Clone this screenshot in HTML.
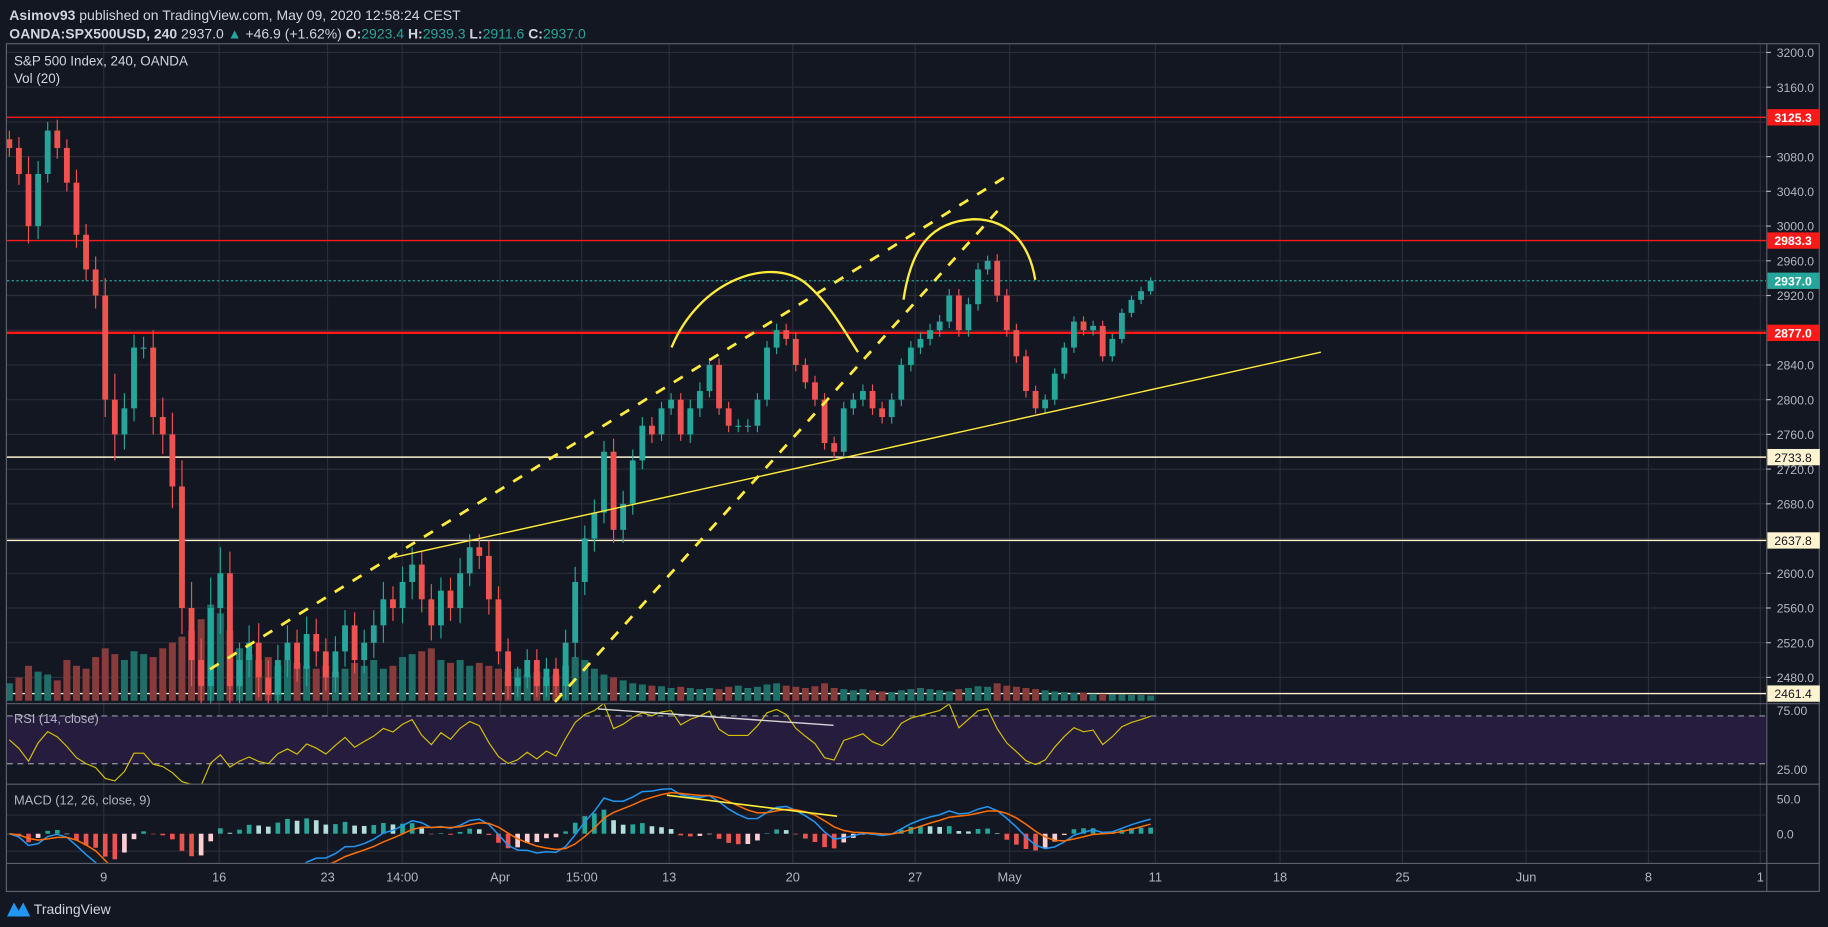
<!DOCTYPE html>
<html><head><meta charset="utf-8">
<style>
html,body{margin:0;padding:0;background:#131722;overflow:hidden}
svg{display:block}
text{font-family:"Liberation Sans",sans-serif}
</style></head>
<body>
<svg id="c" width="1828" height="927" viewBox="0 0 1568 795" preserveAspectRatio="none" xmlns="http://www.w3.org/2000/svg">
<rect x="0" y="0" width="1568" height="795" fill="#131722"/>
<defs>
<clipPath id="cm"><rect x="6" y="38" width="1509" height="565"/></clipPath>
<clipPath id="cr"><rect x="6" y="604" width="1509" height="68"/></clipPath>
<clipPath id="cd"><rect x="6" y="673" width="1509" height="67"/></clipPath>
</defs>
<g>
<text x="8" y="17" font-size="12" fill="#d1d4dc"><tspan font-weight="bold">Asimov93</tspan> published on TradingView.com, May 09, 2020 12:58:24 CEST</text>
<text x="8" y="33" font-size="12" fill="#d1d4dc"><tspan font-weight="bold">OANDA:SPX500USD, 240</tspan> 2937.0 <tspan fill="#26a69a">▲</tspan> +46.9 (+1.62%) <tspan font-weight="bold">O:</tspan><tspan fill="#26a69a">2923.4</tspan> <tspan font-weight="bold">H:</tspan><tspan fill="#26a69a">2939.3</tspan> <tspan font-weight="bold">L:</tspan><tspan fill="#26a69a">2911.6</tspan> <tspan font-weight="bold">C:</tspan><tspan fill="#26a69a">2937.0</tspan></text>
</g>
<g id="grid"></g>
<g id="levels" clip-path="url(#cm)"></g>
<g id="vol" clip-path="url(#cm)"></g>
<g id="candles" clip-path="url(#cm)"></g>
<g id="draw" clip-path="url(#cm)" fill="none" stroke="#ffeb3b">
<line x1="180" y1="574" x2="862" y2="152" stroke-width="2.4" stroke-dasharray="9,9"/>
<line x1="476" y1="602" x2="860" y2="176" stroke-width="2.4" stroke-dasharray="9,9"/>
<line x1="338" y1="478" x2="1133" y2="302" stroke-width="1.2"/>
<path d="M576,298 C600,240 660,220 690,242 C710,258 725,285 736,302" stroke-width="2"/>
<path d="M775,257 C782,210 800,190 835,188 C870,188 884,215 888,240" stroke-width="2"/>
</g>
<g id="rsi"></g>
<g id="macd"></g>
<g id="axes"></g>
<g>
<path d="M6,786 L12,774 L16,781 L20,774 L26,786 Z" fill="#2196f3"/>
<text x="29" y="784" font-size="12" fill="#d1d4dc">TradingView</text>
</g>
</svg>
<script>
const closes=[3090,3060,3000,3060,3110,3090,3050,2990,2950,2920,2800,2760,2790,2860,2860,2780,2760,2700,2560,2500,2470,2560,2600,2470,2500,2520,2480,2460,2500,2520,2490,2530,2510,2480,2510,2540,2500,2520,2540,2570,2560,2590,2610,2570,2540,2580,2560,2600,2630,2620,2570,2510,2470,2480,2500,2470,2490,2470,2520,2590,2640,2670,2740,2650,2680,2730,2770,2760,2790,2800,2760,2790,2810,2840,2790,2770,2770,2770,2800,2860,2880,2870,2840,2820,2800,2750,2740,2790,2800,2810,2790,2780,2800,2840,2860,2870,2880,2890,2920,2880,2910,2950,2960,2920,2880,2850,2810,2790,2800,2830,2860,2890,2880,2885,2850,2870,2900,2915,2925,2937];
const wicks=[20,25,40,30,20,25,20,30,25,30,40,60,35,30,25,40,45,50,60,60,50,70,60,50,40,40,45,40,35,40,30,40,35,30,35,35,30,30,35,40,30,35,40,30,35,30,30,35,30,30,35,30,30,25,25,25,25,25,30,35,30,30,25,30,30,25,20,20,15,15,15,20,20,15,15,15,15,15,15,15,15,15,15,15,15,15,15,15,15,15,15,15,15,15,15,15,15,15,15,15,15,15,12,15,15,15,15,12,12,12,12,12,12,12,12,12,10,10,10,8];
const volumes=[30,40,60,50,45,35,70,60,55,75,90,80,70,85,80,75,90,100,110,120,140,165,150,120,90,80,70,75,60,70,65,60,55,60,50,55,65,60,70,55,60,75,80,85,90,70,65,70,60,65,60,55,50,55,45,50,40,45,60,75,70,55,45,40,35,30,28,26,25,22,24,22,20,22,20,24,26,22,24,28,30,26,24,22,25,30,22,20,18,20,18,16,15,18,20,22,20,18,16,20,22,25,24,30,26,24,22,20,18,16,15,14,14,12,12,11,11,10,10,9];
const priceTicks=[3200,3160,3080,3040,3000,2960,2920,2840,2800,2760,2720,2680,2600,2560,2520,2480];
const gridPrices=[3200,3160,3120,3080,3040,3000,2960,2920,2880,2840,2800,2760,2720,2680,2640,2600,2560,2520,2480];
const dateLabels=["9","16","23","14:00","Apr","15:00","13","20","27","May","11","18","25","Jun","8","1"];
const datePos=[89,188,281,345,429,499,574,680,785,866,991,1098,1203,1309,1414,1510];
const levelPrices=[3125.3,2983.3,2877.0,2733.8,2637.8,2461.4];
const levelKinds=["red","red","red2","cream","cream","cream"];

const NS="http://www.w3.org/2000/svg";
function mk(p,t,a){const e=document.createElementNS(NS,t);for(const k in a)e.setAttribute(k,a[k]);p.appendChild(e);return e;}
const yP=p=>45+(3200-p)*0.7444;
const xI=i=>8+i*(979/(closes.length-1));
const yR=v=>614+(70-v)*1.025;
const yM=v=>715-v*0.6;

const G=document.getElementById('grid');
gridPrices.forEach(p=>{const l=mk(G,'line',{x1:6,x2:1515,y1:yP(p),y2:yP(p),stroke:'#2a2e39','stroke-width':1});

});
datePos.forEach(x=>{const l=mk(G,'line',{x1:x,x2:x,y1:38,y2:740,stroke:'#2a2e39','stroke-width':1});

});
[699,730].forEach(y=>{mk(G,'line',{x1:6,x2:1515,y1:y,y2:y,stroke:'#2a2e39'});});
const band=mk(G,'rect',{x:6,y:yR(70),width:1509,height:yR(30)-yR(70),fill:'#261c3e'});


[70,30].forEach(v=>{mk(G,'line',{x1:6,x2:1515,y1:yR(v),y2:yR(v),stroke:'#9598a1','stroke-dasharray':'5,4'});});

const L=document.getElementById('levels');
levelPrices.forEach((p,i)=>{const k=levelKinds[i];const col=k==='cream'?'#fff3d0':'#ff1a1a';
const l=mk(L,'line',{x1:6,x2:1515,y1:yP(p),y2:yP(p),stroke:col,'stroke-width':k==='red2'?2:1.2});

});
const lastC=closes[closes.length-1];
const dl=mk(L,'line',{x1:6,x2:1515,y1:yP(lastC),y2:yP(lastC),stroke:'#26a69a','stroke-dasharray':'2,2'});



const V=document.getElementById('vol');
volumes.forEach((v,i)=>{const o=i?closes[i-1]:closes[0];const up=closes[i]>=o;
const r=mk(V,'rect',{x:xI(i)-3,y:601-v*0.5,width:6,height:v*0.5,fill:up?'#1f6e68':'#873b3b'});

});

const C=document.getElementById('candles');
closes.forEach((c,i)=>{const o=i?closes[i-1]:c+10;const up=c>=o;const col=up?'#26a69a':'#ef5350';
const hi=Math.max(o,c)+wicks[i]*0.5,lo=Math.min(o,c)-wicks[i]*0.5;const x=xI(i);
const w=mk(C,'line',{x1:x,x2:x,y1:yP(hi),y2:yP(lo),stroke:col,'stroke-width':1});


const b=mk(C,'rect',{x:x-2.5,y:yP(Math.max(o,c)),width:5,height:Math.max(1,Math.abs(yP(o)-yP(c))),fill:col});

});

const R=document.getElementById('rsi');
const N=7;let ag=0,al=0;const rsi=[];
closes.forEach((c,i)=>{if(i===0){rsi.push(50);return;}const d=c-closes[i-1];const g=Math.max(d,0),l=Math.max(-d,0);
if(i===1){ag=15;al=15;}ag=(ag*(N-1)+g)/N;al=(al*(N-1)+l)/N;rsi.push(100-100/(1+ag/(al||1e-6)));});
const rp=mk(R,'polyline',{points:rsi.map((v,i)=>xI(i)+','+yR(v)).join(' '),fill:'none',stroke:'#d4c200','stroke-width':1,'clip-path':'url(#cr)'});


const rt=mk(R,'line',{x1:513,y1:608,x2:715,y2:622,stroke:'#d6d6d6','stroke-width':1.2});


const rl=mk(R,'text',{x:12,y:620,'font-size':11,fill:'#b2b5be'});rl.textContent='RSI (14, close)';



const M=document.getElementById('macd');
function ema(a,n){const k=2/(n+1);const o=[];a.forEach((v,i)=>o.push(i?v*k+o[i-1]*(1-k):v));return o;}
const e12=ema(closes,6),e26=ema(closes,13);const macd=e12.map((v,i)=>(v-e26[i])*1.1);const sig=ema(macd,5);
macd.forEach((m,i)=>{const h=m-sig[i];const ph=i?macd[i-1]-sig[i-1]:0;
const col=h>=0?(h>=ph?'#26a69a':'#b2dfdb'):(h<ph?'#ef5350':'#ffcdd2');
const y0=yM(0),y1=yM(h*1.2);
const r=mk(M,'rect',{x:xI(i)-2,y:Math.min(y0,y1),width:4,height:Math.max(0.5,Math.abs(y1-y0)),fill:col,'clip-path':'url(#cd)'});

});
const ml=mk(M,'polyline',{points:macd.map((v,i)=>xI(i)+','+yM(v)).join(' '),fill:'none',stroke:'#2196f3','stroke-width':1.3,'clip-path':'url(#cd)'});


const sl=mk(M,'polyline',{points:sig.map((v,i)=>xI(i)+','+yM(v)).join(' '),fill:'none',stroke:'#ff6d00','stroke-width':1.3,'clip-path':'url(#cd)'});


const mt=mk(M,'line',{x1:572,y1:682,x2:718,y2:700,stroke:'#ffeb3b','stroke-width':1.4});


const mtl=mk(M,'text',{x:12,y:690,'font-size':11,fill:'#b2b5be'});mtl.textContent='MACD (12, 26, close, 9)';



const A=document.getElementById('axes');
mk(A,'rect',{x:5.5,y:37.5,width:1555,height:727,fill:'none',stroke:'#5d606b'});
mk(A,'line',{x1:1515.5,x2:1515.5,y1:37,y2:765,stroke:'#5d606b'});
[603.5,672.5,740.5].forEach(y=>mk(A,'line',{x1:6,x2:1561,y1:y,y2:y,stroke:'#5d606b'}));
const t1=mk(A,'text',{x:12,y:56,'font-size':11.5,fill:'#d1d4dc'});t1.textContent='S&P 500 Index, 240, OANDA';


const t2=mk(A,'text',{x:12,y:71,'font-size':11.5,fill:'#d1d4dc'});t2.textContent='Vol (20)';


priceTicks.forEach(p=>{const t=mk(A,'text',{x:1524,y:yP(p)+4,'font-size':10.5,fill:'#b2b5be'});t.textContent=p.toFixed(1);


mk(A,'line',{x1:1515,x2:1519,y1:yP(p),y2:yP(p),stroke:'#b2b5be'});});
[['75.00',609],['25.00',660],['50.0',yM(50)],['0.0',yM(0)]].forEach(a=>{const t=mk(A,'text',{x:1524,y:a[1]+4,'font-size':10.5,fill:'#b2b5be'});t.textContent=a[0];

});
const tags=levelPrices.concat([lastC]);const tagKinds=levelKinds.concat(['last']);
tags.forEach((p,i)=>{const k=tagKinds[i];const bg=k==='cream'?'#fff3d0':(k==='last'?'#26a69a':'#ff1a1a');const fg=k==='cream'?'#131722':'#ffffff';
const r=mk(A,'rect',{x:1516,y:yP(p)-7,width:45,height:14,fill:bg});


const t=mk(A,'text',{x:1522,y:yP(p)+4,'font-size':10.5,fill:fg,'font-weight':k==='cream'?'normal':'bold'});t.textContent=p.toFixed(1);});
dateLabels.forEach((d,i)=>{const t=mk(A,'text',{x:datePos[i],y:756,'font-size':11,fill:'#b2b5be','text-anchor':'middle'});t.textContent=d;

});
</script>
</body></html>
